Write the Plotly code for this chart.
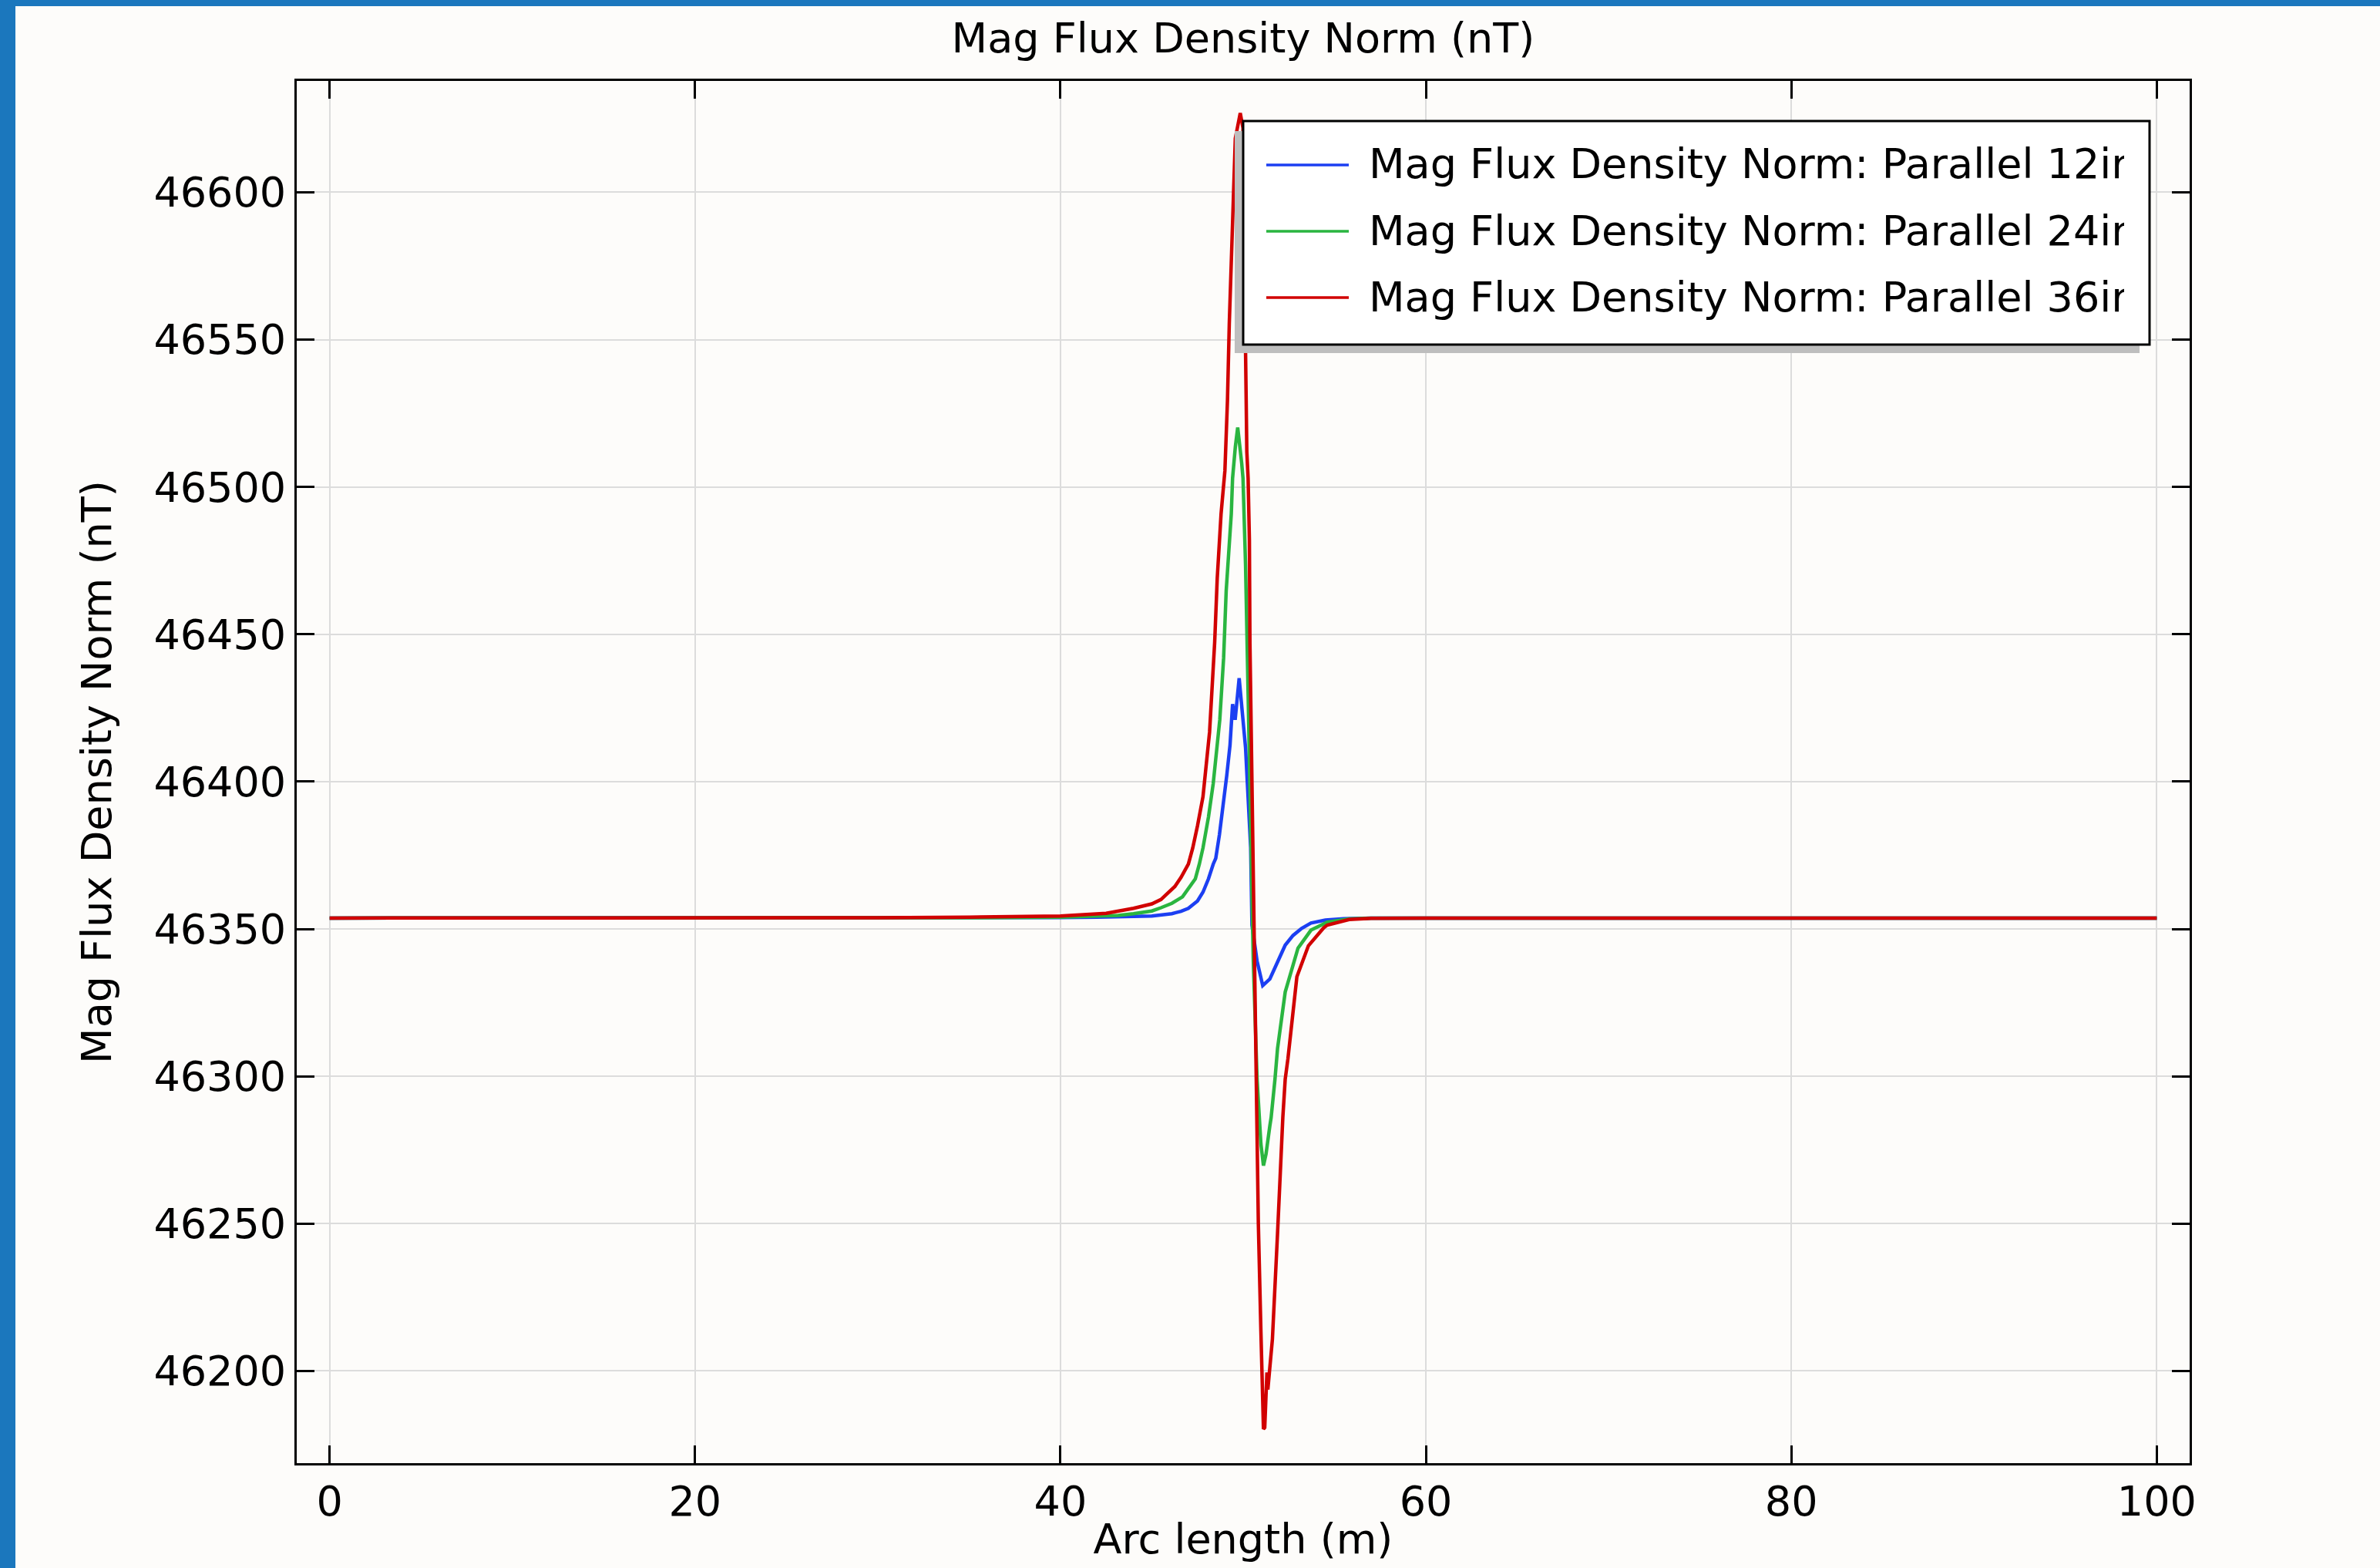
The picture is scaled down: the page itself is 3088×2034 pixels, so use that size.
import plotly.graph_objects as go

# ---------------- data ----------------
x_12in = [0, 10, 20, 30, 35, 40, 42, 43, 44, 45, 46.1, 46.6, 47.0, 47.5, 47.8, 48.1, 48.36,
          48.5, 48.7, 48.93, 49.1, 49.28, 49.42, 49.56, 49.78, 50.13, 50.34, 50.41, 50.48,
          50.76, 51.07, 51.46, 51.75, 52.03, 52.3, 52.73, 53.2, 53.71, 54.5, 55.5, 57, 60,
          70, 80, 90, 100]
y_12in = [46353.7, 46353.7, 46353.7, 46353.7, 46353.8, 46353.9, 46354.0, 46354.1, 46354.2,
          46354.4, 46355.2, 46356.0, 46357.0, 46359.5, 46362.5, 46367.0, 46372.0,
          46374.0, 46382.0, 46393.0, 46402.0, 46412.4, 46426.3, 46421.0, 46435.1, 46411.5,
          46386.2, 46377.5, 46351.3, 46339.1, 46330.8, 46333.0, 46337.0, 46340.8, 46344.5,
          46347.8, 46350.2, 46352.0, 46353.0, 46353.5, 46353.7, 46353.7,
          46353.7, 46353.7, 46353.7, 46353.7]

x_24in = [0, 10, 20, 30, 35, 40, 42, 43.16, 44, 45.0, 45.5, 46.1, 46.68, 47.0, 47.38, 47.6,
          47.8, 48.1, 48.36, 48.72, 48.93, 49.07, 49.35, 49.42, 49.49, 49.57, 49.7, 49.84,
          49.92, 49.99, 50.13, 50.27, 50.41, 50.55, 50.76, 50.97, 51.11, 51.25, 51.46, 51.53,
          51.74, 51.88, 52.3, 53.0, 53.71, 54.6, 55.8, 57, 60, 70, 80, 90, 100]
y_24in = [46353.7, 46353.7, 46353.7, 46353.7, 46353.8, 46354.0, 46354.3, 46354.6, 46355.2,
          46356.1, 46357.2, 46358.7, 46360.9, 46363.5, 46367.0, 46372.0,
          46377.5, 46388.0, 46399.3, 46421.0, 46442.0, 46464.7, 46490.9, 46503.0, 46508.4,
          46513.6, 46520.2, 46513.6, 46508.0, 46503.0, 46473.5, 46429.8, 46377.5, 46340.0,
          46299.0, 46277.0, 46269.7, 46273.6, 46283.2, 46286.0, 46299.0, 46309.4, 46328.6,
          46343.5, 46349.6, 46352.3, 46353.4, 46353.7, 46353.7, 46353.7, 46353.7, 46353.7,
          46353.7]

x_36in = [0, 10, 20, 30, 35, 40, 42.5, 43.2, 44, 45.0, 45.5, 46.26, 46.6, 47.0, 47.24, 47.5,
          47.8, 48.16, 48.44, 48.58, 48.79, 49.0, 49.14, 49.24, 49.35, 49.57, 49.84, 49.99,
          50.06, 50.13, 50.15, 50.2, 50.27, 50.34, 50.37, 50.48, 50.55, 50.69, 50.83, 50.97,
          51.11, 51.18, 51.3, 51.35, 51.6, 51.88, 52.03, 52.17, 52.3, 52.45, 52.94, 53.15,
          53.57, 54.41, 54.6, 55.8, 57, 60, 70, 80, 90, 100]
y_36in = [46353.7, 46353.7, 46353.7, 46353.8, 46354.0, 46354.4, 46355.3, 46356.0, 46357.0,
          46358.5, 46360.0, 46364.4, 46367.5, 46372.0, 46377.5, 46385.0,
          46394.9, 46416.8, 46447.3, 46469.0, 46490.9, 46505.5, 46529.3, 46555.5, 46577.3,
          46618.3, 46626.9, 46621.8, 46580.0, 46545.0, 46529.0, 46511.9, 46503.0, 46482.0,
          46447.0, 46400.0, 46377.5, 46299.0, 46250.0, 46213.4,
          46180.3, 46180.8, 46199.5, 46193.7, 46210.8, 46246.6, 46268.4, 46286.0, 46299.0,
          46306.0, 46333.8, 46337.4, 46344.3, 46350.4, 46351.3, 46353.2, 46353.6, 46353.7,
          46353.7, 46353.7, 46353.7, 46353.7]

series_names = ["Mag Flux Density Norm: Parallel 12in",
                "Mag Flux Density Norm: Parallel 24in",
                "Mag Flux Density Norm: Parallel 36in"]
series_colors = ["#1c3ff2", "#2ab540", "#d10000"]

x_ticks = [0, 20, 40, 60, 80, 100]
y_ticks = [46200, 46250, 46300, 46350, 46400, 46450, 46500, 46550, 46600]

# ---------------- layout geometry (pixels of 3088x2034 canvas) ----------------
W, H = 3088, 2034
L, R, T, B = 385, 2841, 105, 1898
FONT = "DejaVu Sans"
FS = 54


def px(xp):
    return (xp - L) / (R - L)


def py(yp):
    return (B - yp) / (B - T)


fig = go.Figure()
for xs, ys, nm, col in zip([x_12in, x_24in, x_36in], [y_12in, y_24in, y_36in],
                           series_names, series_colors):
    fig.add_trace(go.Scatter(x=xs, y=ys, mode="lines", name=nm,
                             line=dict(color=col, width=4.5), showlegend=False))

axis_common = dict(
    showline=True, linecolor="black", linewidth=3, mirror="ticks",
    ticks="inside", ticklen=23, tickwidth=3, tickcolor="black",
    showgrid=True, gridcolor="#dcdcdc", gridwidth=2, zeroline=False,
    tickfont=dict(family=FONT, size=FS, color="black"), automargin=False,
)

fig.update_xaxes(range=[-1.8, 101.8], tickvals=x_ticks, ticktext=[str(v) for v in x_ticks],
                 title=dict(text="Arc length (m)", font=dict(family=FONT, size=FS, color="black"),
                            standoff=0),
                 ticklabelstandoff=0, **axis_common)
fig.update_yaxes(range=[46168.7, 46637.8], tickvals=y_ticks, ticktext=[str(v) for v in y_ticks],
                 title=dict(text="Mag Flux Density Norm (nT)",
                            font=dict(family=FONT, size=FS, color="black"), standoff=38),
                 ticklabelstandoff=0, **axis_common)

shapes = []
# blue window frame
shapes.append(dict(type="rect", xref="paper", yref="paper", x0=px(0), x1=px(20), y0=py(H), y1=py(0),
                   fillcolor="#1b77bd", line=dict(width=0), layer="below"))
shapes.append(dict(type="rect", xref="paper", yref="paper", x0=px(0), x1=px(W), y0=py(8), y1=py(0),
                   fillcolor="#1b77bd", line=dict(width=0), layer="below"))
# legend shadow and box
shapes.append(dict(type="rect", xref="paper", yref="paper", x0=px(1602), x1=px(2776),
                   y0=py(458), y1=py(170), fillcolor="#bebebe", line=dict(width=0), layer="above"))
shapes.append(dict(type="rect", xref="paper", yref="paper", x0=px(1613), x1=px(2789),
                   y0=py(447), y1=py(157), fillcolor="white", line=dict(color="black", width=3),
                   layer="above"))
legend_rows = [214, 300, 386]
annotations = []
for yrow, nm, col in zip(legend_rows, series_names, series_colors):
    shapes.append(dict(type="line", xref="paper", yref="paper", x0=px(1643), x1=px(1750),
                       y0=py(yrow), y1=py(yrow), line=dict(color=col, width=3.5), layer="above"))
    annotations.append(dict(xref="paper", yref="paper", x=px(1776), y=py(yrow - 1), text=nm,
                            xanchor="left", yanchor="middle", align="left", width=980,
                            borderpad=0, borderwidth=0, showarrow=False,
                            font=dict(family=FONT, size=FS, color="black")))

fig.update_layout(
    width=W, height=H,
    margin=dict(l=L, r=W - R, t=T, b=H - B, pad=0, autoexpand=False),
    paper_bgcolor="#fdfcfa", plot_bgcolor="#fdfcfa",
    title=dict(text="Mag Flux Density Norm (nT)", x=0.5, xref="paper", xanchor="center",
               y=1 - 49 / H, yref="container", yanchor="middle", automargin=False,
               font=dict(family=FONT, size=FS, color="black")),
    shapes=shapes, annotations=annotations, showlegend=False,
    font=dict(family=FONT, size=FS, color="black"),
)

fig.write_html("out.html")
